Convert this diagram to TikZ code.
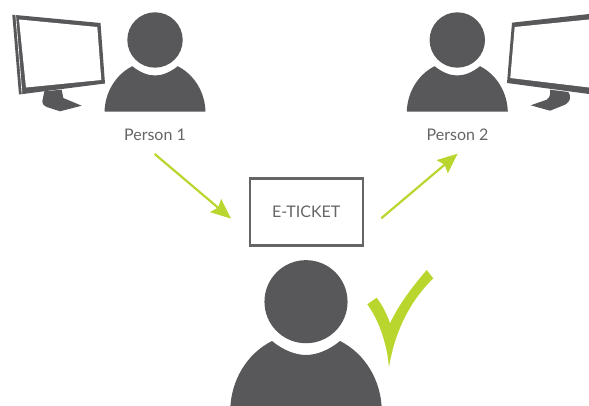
\documentclass[tikz,border=0pt]{standalone}
\usepackage{fontspec}
\setmainfont{Lato}
\usetikzlibrary{arrows.meta}
\definecolor{dk}{HTML}{58585A}
\definecolor{txt}{HTML}{656567}
\definecolor{grn}{HTML}{B9D62E}
\tikzset{
  person/.pic={
    \fill[dk] (0,0) circle (27.7);
    \fill[dk] (-22.7,26.2) .. controls (-15,32.5) and (-7,35.5) .. (0,35.5)
      .. controls (7,35.5) and (15,32.5) .. (22.7,26.2)
      .. controls (40,35) and (50,53) .. (50.5,71.7)
      -- (-50.5,71.7)
      .. controls (-50,53) and (-40,35) .. (-22.7,26.2) -- cycle;
  },
  lbl/.style={text=txt,font=\fontsize{16}{18}\selectfont,inner sep=0pt},
  flow/.style={draw=grn,line width=2.2pt,-{Stealth[length=20pt,width=17pt,inset=3pt]}},
  ticket/.style={draw=txt,line width=2.2pt,minimum width=113pt,minimum height=67pt,inner sep=0pt,text=txt,font=\fontsize{16}{18}\selectfont}
}
\begin{document}
\begin{tikzpicture}[x=1pt,y=-1pt]
\useasboundingbox (0,0) rectangle (589,406);
% monitor 1
\fill[dk] (44.3,91.3) -- (61.7,89.7) -- (63.3,98) -- (81.7,105.7) -- (60,111.3) -- (46.7,107) .. controls (43,105) and (42,103) .. (42.3,101.3) -- cycle;
\fill[dk] (12.3,14.7) -- (100.5,23) -- (105,83.5) -- (19,94.5) -- cycle;
\fill[white] (19,19.5) -- (97.3,27) -- (101.3,80) -- (26,87.5) -- cycle;
\draw[white,line width=.6pt] (15.7,15) -- (22,93.5);
% monitor 2
\fill[dk] (550,89.7) -- (568.3,92) .. controls (570,94) and (570,96) .. (570,98) .. controls (570,100) and (568,103) .. (565,104.7) -- (550,110.7) -- (530.7,105.3) -- (546.7,99.7) .. controls (549,98) and (550,96) .. (550,94.7) -- cycle;
\fill[dk] (512,22.7) -- (589,14) -- (589,94) -- (507,83) -- cycle;
\fill[white] (514.7,27) -- (589,19.5) -- (589,87.5) -- (510.3,78) -- cycle;
% people
\pic at (155,40) {person};
\pic at (457.3,40) {person};
\pic[scale=1.5] at (306,301.7) {person};
% labels
\node[lbl] (p1) at (155,134.5) {Person 1};
\node[lbl] (p2) at (457.5,134.5) {Person 2};
\node[ticket] (tk) at (306.2,212) {E-TICKET};
\coordinate (a1s) at (154.7,154);
\coordinate (a1e) at (231,218.6);
\coordinate (a2s) at (381.3,218.3);
\coordinate (a2e) at (457.6,153.7);
\draw[flow] (a1s) -- (a1e);
\draw[flow] (a2s) -- (a2e);
% check
\fill[grn] (367.3,304.3) -- (376.7,297.7) .. controls (382,305) and (387,314) .. (390,323.3)
  .. controls (399,304) and (413,286) .. (426.7,270) -- (433.3,278.3)
  .. controls (411,300) and (395,330) .. (389,367.3)
  .. controls (387,345) and (380,322) .. (367.3,304.3) -- cycle;
\end{tikzpicture}
\end{document}
